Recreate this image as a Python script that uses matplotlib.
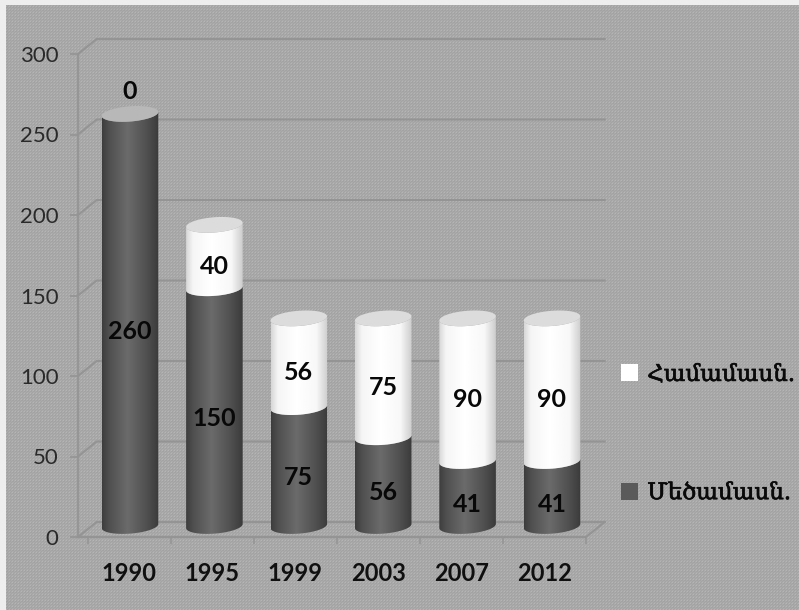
import numpy as np
import matplotlib
matplotlib.use("Agg")
import matplotlib.pyplot as plt
import matplotlib.patheffects as pe
from matplotlib.patches import Polygon, Patch

years = ["1990", "1995", "1999", "2003", "2007", "2012"]
majority = [260, 150, 75, 56, 41, 41]
proportional = [0, 40, 56, 75, 90, 90]
y_ticks = [0, 50, 100, 150, 200, 250, 300]
legend_top = "Համամասն."
legend_bottom = "Մեծամասն."

W, H = 799, 610
fig = plt.figure(figsize=(W / 100, H / 100), dpi=100)

# textured grey background with a pale outer edge
yy, xx = np.mgrid[0:H, 0:W]
tex = 163 + 18 * (((xx % 3 == 0) & (yy % 3 == 0)).astype(float)) + 8 * (((xx + 1) % 3 == 0) ^ ((yy + 1) % 3 == 0))
tex = tex / 255.0
tex[:, :6] = 0.93
tex[:5, :] = 0.93
fig.figimage(tex, cmap="gray", vmin=0, vmax=1, origin="upper", zorder=-10)

CX0, CXSTEP = 130.0, 84.4
FL, FR, FB, FT = 78, 586, 537, 54


def xlim_for(l, r):
    return (l - CX0) / CXSTEP, (r - CX0) / CXSTEP


# walls / axis
ax = fig.add_axes([FL / W, 1 - FB / H, (FR - FL) / W, (FB - FT) / H])
ax.patch.set_alpha(0)
ax.set_xlim(*xlim_for(FL, FR))
ax.set_ylim(0, 300)
for s in ["top", "right"]:
    ax.spines[s].set_visible(False)
gc = "#949494"
ax.spines["left"].set_color(gc)
ax.spines["left"].set_linewidth(1.3)
ax.spines["bottom"].set_color(gc)
ax.spines["bottom"].set_linewidth(1.5)
ax.set_yticks(y_ticks)
ax.tick_params(axis="y", length=6, width=1.2, color=gc, pad=8, labelsize=16, labelcolor="#2a2a2a")
for t in ax.get_yticklabels():
    t.set_fontfamily("Lato")
n = len(years)
ax.set_xticks(np.arange(n + 1) - 0.5)
ax.set_xticklabels([])
ax.tick_params(axis="x", which="major", length=5, width=1.1, color=gc)
ax.set_xticks(np.arange(n), minor=True)
ax.set_xticklabels(years, minor=True, fontfamily="Lato", fontweight="bold", fontsize=17, color="#101010")
ax.tick_params(axis="x", which="minor", length=0, pad=18)

dx = 19 / CXSTEP
dy = 15 / ((FB - FT) / 300)
x0, x1 = ax.get_xlim()
for v in y_ticks:
    ax.plot([x0, x0 + dx, x1 + dx], [v, v + dy, v + dy], color=gc, lw=1.5, clip_on=False, zorder=1)
ax.plot([x1, x1 + dx], [0, dy], color=gc, lw=1.5, clip_on=False, zorder=1)

# cylinders
BASE, SCALE = 526.0, 1.585
bx = fig.add_axes([0, 0, 1, 1])
bx.patch.set_alpha(0)
bx.axis("off")
lims_x = xlim_for(0, W)
lims_y = ((BASE - H) / SCALE, BASE / SCALE)
HW, EB, TILT = 0.335, 4.8, 1.3

grad_pos = [0, 0.12, 0.45, 0.8, 1]
dark_vals = [0.24, 0.31, 0.42, 0.31, 0.23]
white_vals = [0.84, 0.96, 1.0, 0.97, 0.80]


def arc(cx, cy, a0, a1):
    tt = np.linspace(a0, a1, 80)
    return cx + HW * np.cos(tt), cy + EB * np.sin(tt) + TILT * np.cos(tt)


def body(cx, v0, v1, vals):
    xa, ya = arc(cx, v0, np.pi, 2 * np.pi)
    xb, yb = arc(cx, v1, 0, -np.pi)
    pts = np.column_stack([np.r_[xa, xb], np.r_[ya, yb]])
    g = np.interp(np.linspace(0, 1, 200), grad_pos, vals)[None, :]
    im = bx.imshow(g, cmap="gray", vmin=0, vmax=1, aspect="auto",
                   extent=[cx - HW, cx + HW, min(v0, v1) - 12, max(v0, v1) + 12], zorder=3)
    im.set_clip_path(Polygon(pts, closed=True, transform=bx.transData))


for i, (a, b) in enumerate(zip(majority, proportional)):
    body(i, 0, a, dark_vals)
    top = a
    if b > 0:
        body(i, a, a + b, white_vals)
        top = a + b
        topc = "#dcdcdc"
    else:
        topc = "#b8b8b8"
    ex, ey = arc(i, top, 0, 2 * np.pi)
    bx.add_patch(Polygon(np.column_stack([ex, ey]), closed=True, fc=topc, ec="none", zorder=4))
    lab = dict(ha="center", va="center", fontfamily="Lato", fontweight="bold",
               fontsize=18, color="#080808", zorder=6)
    bx.text(i, a / 2 - 7, str(a), **lab)
    if b > 0:
        bx.text(i, a + b / 2 - 6, str(b), **lab)
    else:
        bx.text(i, a + 14, str(b), **lab)

bx.set_xlim(*lims_x)
bx.set_ylim(*lims_y)

handles = [Patch(fc="white", ec="none"), Patch(fc="#5a5a5a", ec="none")]
leg = fig.legend(handles, [legend_top, legend_bottom], loc="upper left",
                 bbox_to_anchor=(614 / W, 1 - 357 / H), borderaxespad=0, borderpad=0.3,
                 frameon=False, handlelength=0.75, handleheight=0.75, handletextpad=0.4,
                 labelspacing=4.2, prop={"family": "DejaVu Serif", "size": 16.5})
for tx in leg.get_texts():
    tx.set_color("#0a0a0a")
    tx.set_path_effects([pe.withStroke(linewidth=0.5, foreground="#0a0a0a")])

fig.savefig("out.png", dpi=100)
